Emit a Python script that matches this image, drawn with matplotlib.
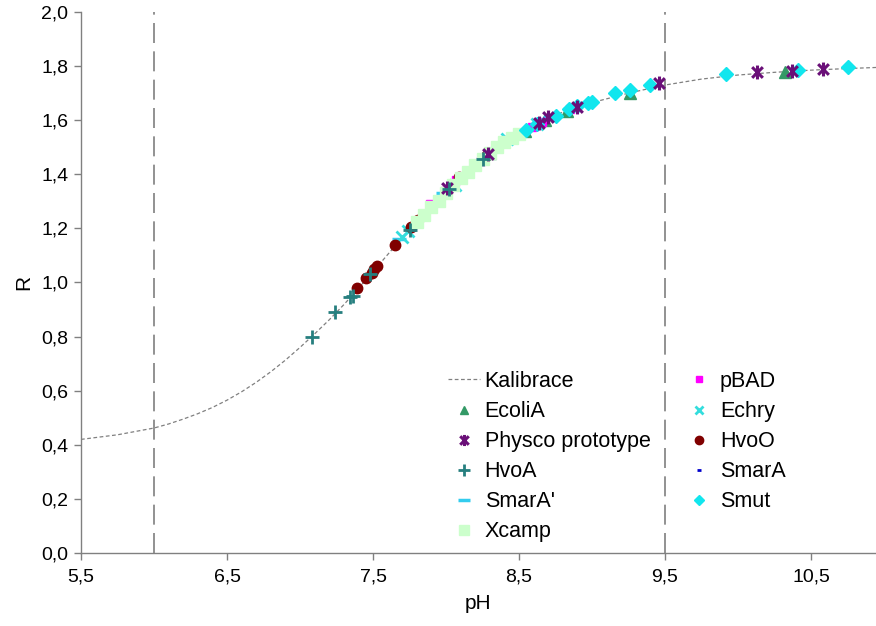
import matplotlib
matplotlib.use("Agg")
import matplotlib.pyplot as plt
from matplotlib.path import Path
from matplotlib.ticker import FuncFormatter, MultipleLocator, FixedLocator

plt.rcParams['font.family'] = ['Liberation Sans', 'DejaVu Sans']

# Calibration curve
cal_ph = [5.5, 5.75, 6.0, 6.1, 6.2, 6.3, 6.4, 6.5, 6.6, 6.7, 6.8, 6.9, 7.0, 7.1, 7.2, 7.3,
          7.4, 7.5, 7.6, 7.7, 7.8, 7.9, 8.0, 8.1, 8.2, 8.3, 8.4, 8.5, 8.6, 8.7, 8.8, 8.9,
          9.0, 9.25, 9.5, 9.75, 10.0, 10.25, 10.5, 10.75, 10.95]
cal_r = [0.42, 0.437, 0.462, 0.477, 0.495, 0.515, 0.538, 0.565, 0.596, 0.631, 0.67, 0.713,
         0.76, 0.81, 0.862, 0.918, 0.978, 1.04, 1.103, 1.165, 1.225, 1.282, 1.335, 1.385,
         1.432, 1.475, 1.514, 1.549, 1.58, 1.607, 1.63, 1.649, 1.665, 1.70, 1.73, 1.752,
         1.767, 1.777, 1.785, 1.791, 1.795]

ecoli_ph = [8.30, 8.54, 8.68, 8.83, 9.26, 10.32]
ecoli_r = [1.48, 1.56, 1.60, 1.635, 1.70, 1.78]

physco_ph = [8.01, 8.29, 8.64, 8.70, 8.90, 9.46, 10.13, 10.37, 10.58]
physco_r = [1.35, 1.475, 1.59, 1.61, 1.65, 1.737, 1.778, 1.782, 1.79]

hvoa_ph = [7.08, 7.24, 7.34, 7.36, 7.48, 7.75, 8.02, 8.25]
hvoa_r = [0.80, 0.89, 0.945, 0.95, 1.03, 1.195, 1.345, 1.455]

smara2_ph = [7.68, 7.98, 8.18, 8.60, 8.71, 8.85]
smara2_r = [1.16, 1.33, 1.42, 1.58, 1.61, 1.64]

xcamp_ph = [7.80, 7.85, 7.90, 7.95, 8.00, 8.05, 8.10, 8.15, 8.20, 8.25, 8.30, 8.35, 8.40, 8.45, 8.50]
xcamp_r = [1.225, 1.25, 1.28, 1.30, 1.33, 1.36, 1.385, 1.41, 1.435, 1.455, 1.48, 1.50, 1.52, 1.535, 1.55]

pbad_ph = [7.89, 7.99, 8.07, 8.15, 8.24, 8.35, 8.45, 8.59, 8.66, 8.85]
pbad_r = [1.29, 1.34, 1.38, 1.405, 1.45, 1.50, 1.535, 1.575, 1.595, 1.64]

echry_ph = [7.70, 7.74, 8.06, 8.42, 8.62]
echry_r = [1.17, 1.19, 1.36, 1.53, 1.585]

hvoo_ph = [7.39, 7.45, 7.49, 7.51, 7.53, 7.65, 7.76, 7.81, 8.09, 8.28]
hvoo_r = [0.98, 1.015, 1.035, 1.05, 1.06, 1.14, 1.205, 1.23, 1.39, 1.47]

smara_ph = [8.01, 8.10, 8.28, 8.55]
smara_r = [1.33, 1.38, 1.47, 1.565]

smut_ph = [8.55, 8.62, 8.75, 8.84, 8.90, 8.97, 9.00, 9.16, 9.26, 9.40, 9.92, 10.41, 10.75]
smut_r = [1.565, 1.585, 1.615, 1.64, 1.652, 1.665, 1.668, 1.70, 1.712, 1.73, 1.77, 1.785, 1.795]

vlines_ph = [6.0, 9.5]
xticks = [5.5, 6.5, 7.5, 8.5, 9.5, 10.5]

# Excel-style asterisk marker: x plus vertical bar
asterisk = Path([(-1, -1), (1, 1), (-1, 1), (1, -1), (0, -1.3), (0, 1.3)],
                [Path.MOVETO, Path.LINETO, Path.MOVETO, Path.LINETO, Path.MOVETO, Path.LINETO])

W, H = 876, 626
fig = plt.figure(figsize=(W / 100, H / 100), dpi=100)
ax = fig.add_axes([81 / W, 73 / H, 795 / W, 541 / H])

for v in vlines_ph:
    ax.axvline(v, color='#7f7f7f', lw=1.2, dashes=(12, 5), zorder=1)

ax.plot(cal_ph, cal_r, color='#808080', lw=0.9, dashes=(3, 2), label='Kalibrace', zorder=2)

ax.plot(ecoli_ph, ecoli_r, ls='none', marker='^', ms=8, color='#339966', mec='#339966', label='EcoliA', zorder=3)
ax.plot(physco_ph, physco_r, ls='none', marker=asterisk, ms=10, mew=2.2, color='#6a0f78', label='Physco prototype', zorder=5)
ax.plot(hvoa_ph, hvoa_r, ls='none', marker='+', ms=10, mew=2, color='#267f7f', label='HvoA', zorder=5)
ax.plot(smara2_ph, smara2_r, ls='none', marker='_', ms=10, mew=2.5, color='#33ccee', label="SmarA'", zorder=3)
ax.plot(xcamp_ph, xcamp_r, ls='none', marker='s', ms=8.5, color='#ccffcc', mec='#ccffcc', label='Xcamp', zorder=4)
ax.plot(pbad_ph, pbad_r, ls='none', marker='s', ms=5.5, color='#ff00ff', mec='#ff00ff', label='pBAD', zorder=3)
ax.plot(echry_ph, echry_r, ls='none', marker='x', ms=8, mew=2, color='#33dddd', label='Echry', zorder=3)
ax.plot(hvoo_ph, hvoo_r, ls='none', marker='o', ms=7.5, color='#800000', mec='#800000', label='HvoO', zorder=3)
ax.plot(smara_ph, smara_r, ls='none', marker='_', ms=4, mew=2, color='#0000cc', label='SmarA', zorder=3)
ax.plot(smut_ph, smut_r, ls='none', marker='D', ms=7, color='#11e6ee', mec='#11e6ee', label='Smut', zorder=4)

ax.set_xlim(5.5, 10.945)
ax.set_ylim(0, 2.0)
ax.xaxis.set_major_locator(FixedLocator(xticks))
ax.yaxis.set_major_locator(MultipleLocator(0.2))
fmt = FuncFormatter(lambda v, p: f"{v:.1f}".replace('.', ','))
ax.xaxis.set_major_formatter(fmt)
ax.yaxis.set_major_formatter(fmt)

for s in ['top', 'right']:
    ax.spines[s].set_visible(False)
for s in ['left', 'bottom']:
    ax.spines[s].set_color('#808080')
    ax.spines[s].set_linewidth(1.0)
ax.tick_params(axis='both', direction='out', length=5, width=1, color='#808080',
               labelsize=14, labelcolor='black')
ax.tick_params(axis='y', pad=4)
ax.tick_params(axis='x', pad=6)

ax.set_xlabel('pH', fontsize=15, labelpad=6)
ax.set_ylabel('R', fontsize=15, labelpad=6)

leg = ax.legend(ncol=2, loc='upper left', bbox_to_anchor=(448 / W, 1 - 371 / H),
                bbox_transform=fig.transFigure, frameon=False, fontsize=15.5,
                handlelength=1.5, handletextpad=0.2, columnspacing=1.52,
                labelspacing=0.42, markerscale=0.8, borderaxespad=0, borderpad=0)

fig.savefig('out.png', dpi=100)
